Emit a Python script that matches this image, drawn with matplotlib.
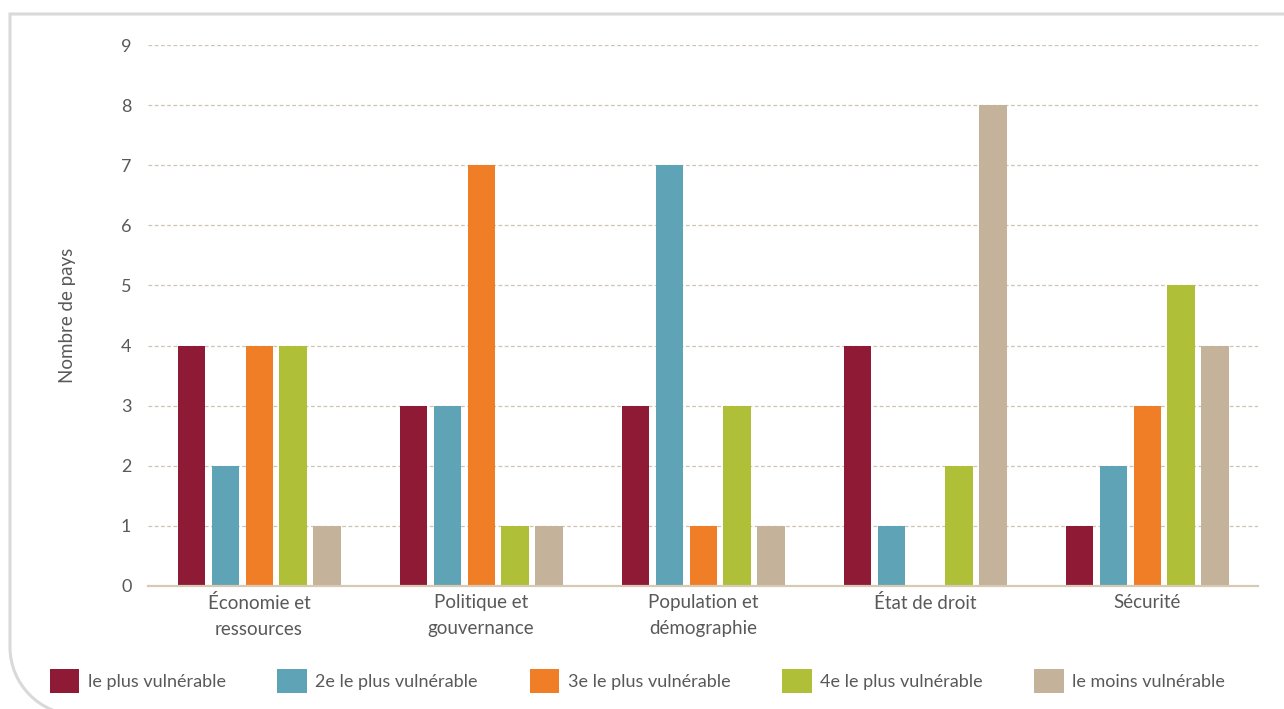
import numpy as np
import matplotlib.pyplot as plt
from matplotlib.path import Path
from matplotlib.patches import PathPatch, Patch
from matplotlib.transforms import IdentityTransform

plt.rcParams['font.family'] = ['Lato', 'DejaVu Sans']

# data
categories = ["Économie et\nressources", "Politique et\ngouvernance",
              "Population et\ndémographie", "État de droit", "Sécurité"]
series = ["le plus vulnérable", "2e le plus vulnérable", "3e le plus vulnérable",
          "4e le plus vulnérable", "le moins vulnérable"]
v1 = [4, 3, 3, 4, 1]
v2 = [2, 3, 7, 1, 2]
v3 = [4, 7, 1, 0, 3]
v4 = [4, 1, 3, 2, 5]
v5 = [1, 1, 1, 8, 4]
values = [v1, v2, v3, v4, v5]
colors = ["#8e1a36", "#5ea4b6", "#f07e26", "#afbf37", "#c4b29a"]

txt = "#595959"

fig = plt.figure(figsize=(12.84, 7.09), dpi=100)
ax = fig.add_axes([0.1153, 0.1735, 0.8645, 0.763])

x = np.arange(len(categories))
w = 0.122
step = 0.153
for i, (vals, c) in enumerate(zip(values, colors)):
    ax.bar(x + (i - 2) * step, vals, width=w, color=c, label=series[i], zorder=2)

ax.set_xlim(-0.5, 4.5)
ax.set_ylim(0, 9)
ax.set_yticks(range(10))
ax.set_xticks(x)
ax.set_xticklabels(categories, fontsize=13.5, color=txt, linespacing=1.62)
ax.tick_params(axis='y', length=0, pad=12, labelsize=13, labelcolor=txt)
ax.tick_params(axis='x', length=0, pad=6)
ax.yaxis.grid(True, ls=(0, (3, 2)), color="#cdc4b4", lw=0.9)
ax.set_axisbelow(True)
for s in ['top', 'right', 'left']:
    ax.spines[s].set_visible(False)
ax.spines['bottom'].set_color("#d6cab5")
ax.spines['bottom'].set_linewidth(1.6)
ax.set_ylabel("Nombre de pays", fontsize=13.5, color=txt, labelpad=32)

handles = [Patch(facecolor=c, edgecolor='none') for c in colors]
fig.legend(handles, series, loc='lower left', bbox_to_anchor=(0.026, 0.0),
           ncol=5, frameon=False, fontsize=13, labelcolor=txt,
           handlelength=1.65, handleheight=1.65, handletextpad=0.45,
           columnspacing=2.87)

# light frame with rounded lower-left corner
k = 0.5523 * 68
verts = [(1300, 695), (10, 695), (10, 62),
         (10, 62 - k), (78 - k, -6), (78, -6), (1300, -6)]
codes = [Path.MOVETO, Path.LINETO, Path.LINETO,
         Path.CURVE4, Path.CURVE4, Path.CURVE4, Path.LINETO]
frame = PathPatch(Path(verts, codes), fill=False, edgecolor="#d9d9d9", lw=2.2,
                  transform=IdentityTransform())
fig.add_artist(frame)

fig.savefig("out.png", dpi=100)
